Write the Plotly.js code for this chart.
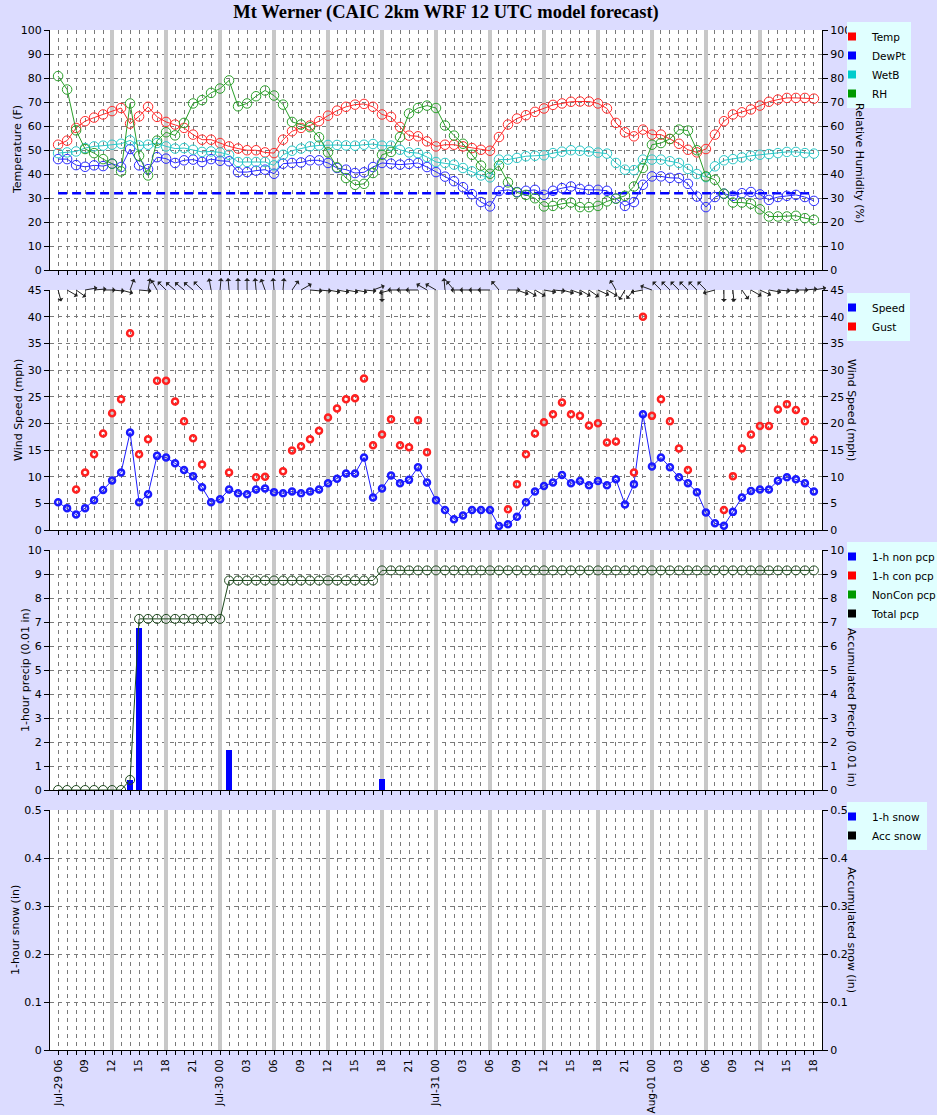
<!DOCTYPE html>
<html><head><meta charset="utf-8">
<script src="https://cdn.plot.ly/plotly-3.0.1.min.js"></script>
<style>html,body{margin:0;padding:0;background:#dcdcff}</style>
</head><body><div id="chart" style="width:937px;height:1115px"></div>
<script>
// ---------------- DATA ----------------
const tickText = ['Jul-29 06','09','12','15','18','21','Jul-30 00','03','06','09','12','15','18','21',
  'Jul-31 00','03','06','09','12','15','18','21','Aug-01 00','03','06','09','12','15','18'];
const temp = [52.2,53.9,59.2,62,63.5,64.8,66.2,67.5,61,64,
  68,63.8,61.7,60.6,59.2,56.4,54.3,54.3,52.9,51.5,
  50.6,49.9,49.9,49,48.7,54.3,57.8,59.2,60.2,62,
  64.3,66.4,68,68.9,69.2,68,64.8,63.8,59.6,56,
  55.7,53.6,51.5,52.2,52.2,51.5,50.8,50.1,49.7,55.4,
  60.6,63.1,64.5,65.9,67.3,68.8,69.4,70.1,70.2,70.2,
  69.4,67.3,61.3,57.4,55.7,58.5,56.4,56.4,54.6,52.6,
  50.1,49,50.4,56.4,62,64.8,65.7,66.9,68.5,70.1,
  71,71.7,71.7,71.7,71.4];
const dewpt = [46.2,46.2,43.7,43,43.6,43.3,44.3,42.9,50.4,43.6,
  42,47,46.4,44.6,45.7,46,45,46.2,45.5,45.3,
  40.8,40.8,41.4,41.8,40.1,44.3,44.6,44.8,45.7,45.7,
  44.6,42.5,41.8,40.4,40.7,42.9,44.6,44.3,43.9,44.2,
  44.6,42.9,40.8,38.9,37,34.5,31.6,28.3,26.5,32.9,
  33.4,32.5,33,33.4,31.3,33,34.1,34.8,33.8,33.4,
  33.4,33,29.8,26.7,28.3,35.5,39,39,38.4,38.3,
  35.9,30.6,26.2,30.4,31.8,30.9,32,32.5,31.5,29.2,
  30.4,30.9,31.3,30.4,28.8];
const wetb = [48.7,49,49.4,50.8,51.5,51.8,52.2,52.6,54,51.9,
  52.2,52.9,51.5,50.6,50.8,50.1,49.2,49.4,49,48,
  45,45,45,45,43.6,48,49.7,50.6,51.5,51.9,
  52.1,52.1,51.9,51.8,52.2,52.5,51.8,51.8,50.1,49,
  48.7,47.1,45,44.6,43.9,42.5,41.1,39.4,38.6,46,
  46,46.7,47.4,47.6,47.8,48.7,49.3,49.9,49.7,49.4,
  48.9,48.5,44.6,41.8,41.6,46,46,46,45.3,44.6,
  42.1,40,38.7,43.2,45.7,46.2,46.9,47.6,48,48.3,
  48.7,49.2,49.2,48.7,48.5];
const rh = [80.8,75.2,58.2,50.4,48.7,46.2,44.3,41.1,69.4,47.6,
  39.4,53.9,57.4,56.1,61.3,69.4,70.8,73.8,75.6,79,
  68.2,69.4,72.4,74.8,72.7,68.9,61.7,60.6,59.5,55.3,
  49,42.8,38.3,35.5,35.9,40.4,48,49.2,55.4,65.2,
  67.5,68.5,67.5,60.2,56,52.6,48,43.5,40.1,43.5,
  36.5,32.3,31.3,29.9,26.5,26.7,27.6,28.1,26.2,26.2,
  26.7,28.6,29.7,30.9,34.8,42.5,52.2,52.9,54.6,58.5,
  58.1,49.9,39,37.6,31.8,28.1,28.1,27.6,25.3,22.3,
  22.3,22.3,22.6,21.6,20.9];
const freezeLevel = 32;
const speed = [5.2,4.1,2.9,4.1,5.6,7.5,9.3,10.8,18.3,5.2,
  6.7,13.9,13.6,12.5,11.25,10.1,8,5.2,5.75,7.6,
  6.9,6.7,7.6,7.8,7.1,6.9,7.2,6.9,7.2,7.6,
  8.75,9.6,10.6,10.6,13.6,6.1,7.8,10.2,8.75,9.4,
  11.75,8.9,5.6,3.75,2,2.7,3.75,3.75,3.75,0.75,
  1.06,2.5,5.2,7.2,8.25,8.9,10.3,8.75,9.2,8.4,
  9.2,8.4,9.5,4.8,8.6,21.7,11.9,13.6,11.75,9.9,
  8.75,7.1,3.3,1.25,0.8,3.4,6.1,7.3,7.6,7.6,
  9.25,9.9,9.5,8.75,7.2];
const gust = [null,null,7.6,10.8,14.2,18.1,21.9,24.5,36.9,14.2,
  17,28,28,24.1,20.4,17.2,12.3,null,null,10.8,
  null,null,9.9,10,null,11,14.9,15.7,17,18.6,
  21.1,22.8,24.5,24.7,28.4,15.9,17.9,20.75,15.9,15.5,
  20.6,14.6,null,null,null,null,null,null,null,null,
  3.9,8.6,14.2,18.1,20.2,21.7,23.9,21.7,21.4,19.6,
  20,16.4,16.6,null,10.8,40,21.4,24.5,20.4,15.3,
  11.25,null,null,null,3.75,10.1,15.3,17.9,19.5,19.5,
  22.6,23.6,22.5,20.4,16.9];
// wind arrow direction (degrees clockwise from north, direction arrow points to)
const windDir = [165,120,125,80,85,90,95,105,20,95,
  10,330,315,310,310,310,315,350,5,355,
  0,0,355,340,355,5,35,60,95,95,
  100,100,100,100,95,70,180,255,270,270,
  270,300,300,355,320,270,270,270,270,320,
  90,110,120,120,100,95,105,110,120,125,
  115,120,330,210,220,260,290,315,315,315,
  315,315,315,255,180,175,145,120,115,100,
  95,95,90,85,80];
const precip1h = [0,0,0,0,0,0,0,0,0.42,6.75,
  0,0,0,0,0,0,0,0,0,1.65,
  0,0,0,0,0,0,0,0,0,0,
  0,0,0,0,0,0,0.45,0,0,0,
  0,0,0,0,0,0,0,0,0,0,
  0,0,0,0,0,0,0,0,0,0,
  0,0,0,0,0,0,0,0,0,0,
  0,0,0,0,0,0,0,0,0,0,
  0,0,0,0,0];
const precipAcc = [0,0,0,0,0,0,0,0,0.42,7.13,
  7.13,7.13,7.13,7.13,7.13,7.13,7.13,7.13,7.13,8.73,
  8.73,8.73,8.73,8.73,8.73,8.73,8.73,8.73,8.73,8.73,
  8.73,8.73,8.73,8.73,8.73,8.73,9.15,9.15,9.15,9.15,
  9.15,9.15,9.15,9.15,9.15,9.15,9.15,9.15,9.15,9.15,
  9.15,9.15,9.15,9.15,9.15,9.15,9.15,9.15,9.15,9.15,
  9.15,9.15,9.15,9.15,9.15,9.15,9.15,9.15,9.15,9.15,
  9.15,9.15,9.15,9.15,9.15,9.15,9.15,9.15,9.15,9.15,
  9.15,9.15,9.15,9.15,9.15];

// ---------------- BUILD ----------------
const hours = temp.map((_, i) => i);
const tickHours = tickText.map((_, i) => i * 3);
const sixHourLines = tickHours.filter(h => h % 6 === 0 && h > 0 && h < hours[hours.length - 1]);
const FONT = '"DejaVu Sans", sans-serif';
const FS = 11;
const GRID = '#7a7a7a';
const DASH = '4px,4px';
const xRange = [-0.9, 84.9];

const C = {temp:'#ff2a2a', dew:'#2a2aff', wet:'#2ac8c8', rh:'#2aa02a', spd:'#1a1aff', gust:'#ff2020', pcp:'#0000ff', acc:'#1e4a1e'};

function xax(anchor, labels) {
  return {
    domain:[0,1], anchor:anchor, range:xRange, tickmode:'array', tickvals:tickHours,
    ticktext:tickText, showticklabels:labels, tickangle:-90,
    ticks:'outside', ticklen:4, tickcolor:'#000', tickfont:{family:FONT, size:10.5, color:'#000'},
    showline:true, linecolor:'#000', linewidth:1, zeroline:false,
    showgrid:true, gridcolor:GRID, griddash:DASH, gridwidth:1,
    minor:{tickmode:'linear', tick0:0, dtick:1, ticks:'outside', ticklen:4, tickcolor:'#000',
           showgrid:true, gridcolor:GRID, griddash:DASH, gridwidth:1},
    fixedrange:true
  };
}
// overlay axis that carries the 6-hourly grey lines as its grid
function xaxGrey(over, anchor) {
  return {
    overlaying:over, anchor:anchor, range:xRange, tickmode:'array', tickvals:sixHourLines,
    showticklabels:false, ticks:'', showline:false, zeroline:false,
    showgrid:true, gridcolor:'#c8c8c8', gridwidth:3.5, fixedrange:true
  };
}
function yax(domain, range, dtick, anchor) {
  return {
    domain:domain, range:range, dtick:dtick, tick0:0, anchor:anchor,
    ticks:'outside', ticklen:5, tickcolor:'#000', tickfont:{family:FONT, size:FS, color:'#000'},
    showline:true, linecolor:'#000', linewidth:1, zeroline:false,
    showgrid:true, gridcolor:GRID, griddash:DASH, gridwidth:1, fixedrange:true
  };
}
function yaxR(over, range, dtick, anchor) {
  return {
    overlaying:over, side:'right', range:range, dtick:dtick, tick0:0, anchor:anchor,
    ticks:'outside', ticklen:5, tickcolor:'#000', tickfont:{family:FONT, size:FS, color:'#000'},
    showline:true, linecolor:'#000', linewidth:1, zeroline:false, showgrid:false, fixedrange:true
  };
}

const H = 1020;
const d1 = [780/H, 1], d2 = [520/H, 760/H], d3 = [260/H, 500/H], d4 = [0, 240/H];

const traces = [];
// invisible carriers so the grey-grid overlay axes get drawn
[['x5','y'], ['x6','y3'], ['x7','y5'], ['x8','y7']].forEach(([xa, ya]) => {
  traces.push({x:[null], y:[null], xaxis:xa, yaxis:ya, mode:'markers', showlegend:false, hoverinfo:'skip'});
});
// Panel 1
traces.push({x:[hours[0], hours[hours.length-1]], y:[freezeLevel, freezeLevel], xaxis:'x', yaxis:'y', mode:'lines',
  line:{color:'#0000ff', width:2.5, dash:'9px,5px'}, showlegend:false});
[[temp, C.temp, 'y'], [dewpt, C.dew, 'y'], [wetb, C.wet, 'y'], [rh, C.rh, 'y2']].forEach(([arr, col, ya]) => {
  traces.push({x:hours, y:arr, xaxis:'x', yaxis:ya, mode:'lines+markers',
    line:{color:col, width:1}, marker:{symbol:'circle-open', size:9.5, color:col, line:{width:1, color:col}}, showlegend:false});
});
// Panel 2
traces.push({x:hours, y:speed, xaxis:'x2', yaxis:'y3', mode:'lines+markers',
  line:{color:C.spd, width:1}, marker:{symbol:'circle-open', size:6, color:C.spd, line:{width:2.5, color:C.spd}}, showlegend:false});
traces.push({x:hours, y:gust, xaxis:'x2', yaxis:'y3', mode:'markers',
  marker:{symbol:'circle-open', size:6, color:C.gust, line:{width:2.5, color:C.gust}}, showlegend:false});
// Panel 3
traces.push({type:'bar', x:hours, y:precip1h, xaxis:'x3', yaxis:'y5', width:0.65,
  marker:{color:C.pcp, line:{width:0}}, showlegend:false});
traces.push({x:hours, y:precipAcc, xaxis:'x3', yaxis:'y6', mode:'lines+markers',
  line:{color:C.acc, width:1}, marker:{symbol:'circle-open', size:9, color:C.acc, line:{width:1, color:C.acc}}, showlegend:false});

// legend-only entries (square swatches)
function legendEntry(name, color, legend, xa, ya) {
  traces.push({x:[null], y:[null], name:name, mode:'markers', xaxis:xa, yaxis:ya, legend:legend,
    marker:{symbol:'square', size:8, color:color}, showlegend:true});
}
legendEntry('Temp', '#ff0000', 'legend', 'x', 'y');
legendEntry('DewPt', '#0000ff', 'legend', 'x', 'y');
legendEntry('WetB', '#00cccc', 'legend', 'x', 'y');
legendEntry('RH', '#009900', 'legend', 'x', 'y2');
legendEntry('Speed', '#0000ff', 'legend2', 'x2', 'y3');
legendEntry('Gust', '#ff0000', 'legend2', 'x2', 'y4');
legendEntry('1-h non pcp', '#0000ff', 'legend3', 'x3', 'y5');
legendEntry('1-h con pcp', '#ff0000', 'legend3', 'x3', 'y5');
legendEntry('NonCon pcp', '#009900', 'legend3', 'x3', 'y5');
legendEntry('Total pcp', '#000000', 'legend3', 'x3', 'y6');
legendEntry('1-h snow', '#0000ff', 'legend4', 'x4', 'y7');
legendEntry('Acc snow', '#000000', 'legend4', 'x4', 'y8');

// annotations: axis titles + wind arrows
const annotations = [];
function atitle(text, x, y, angle) {
  annotations.push({text:text, xref:'paper', yref:'paper', x:(x - 50)/772, y:(1050 - y)/H, xanchor:'center', yanchor:'middle',
    textangle:angle, showarrow:false, font:{family:FONT, size:FS, color:'#000'}});
}
atitle('Temperature (F)', 17, 150, -90);
atitle('Wind Speed (mph)', 18, 410, -90);
atitle('1-hour precip (0.01 in)', 25, 670, -90);
atitle('1-hour snow (in)', 15, 930, -90);
atitle('Relative Humidity (%)', 859, 163, 90);
atitle('Wind Speed (mph)', 852, 410, 90);
atitle('Accumulated Precip (0.01 in)', 852, 708, 90);
atitle('Accumulated snow (in)', 852, 930, 90);

const arrowLen = 14;
windDir.forEach((d, i) => {
  const r = d * Math.PI / 180;
  annotations.push({x:hours[i], y:45, xref:'x2', yref:'y3', ax:arrowLen*Math.sin(r), ay:-arrowLen*Math.cos(r),
    showarrow:true, arrowside:'start', arrowhead:5, arrowsize:1, arrowwidth:1, arrowcolor:'#222',
    font:{size:1}});
});

const legBase = {xanchor:'left', yanchor:'top', x:(847-50)/772, bgcolor:'#e0ffff', borderwidth:0,
  font:{family:FONT, size:10.5, color:'#000'}, itemwidth:30, indentation:-15, tracegroupgap:0};

const layout = {
  width:937, height:1115,
  paper_bgcolor:'#dcdcff', plot_bgcolor:'#ffffff',
  margin:{l:50, r:115, t:30, b:65, autoexpand:false},
  title:{text:'Mt Werner (CAIC 2km WRF 12 UTC model forecast)', font:{family:'"Liberation Serif", serif', size:18.5, color:'#000', weight:'bold'},
         xref:'container', x:0.476, xanchor:'center', yref:'container', y:1-12/1115, yanchor:'middle'},
  xaxis: xax('y', false),
  xaxis2: Object.assign(xax('y3', false), {matches:'x'}),
  xaxis3: Object.assign(xax('y5', false), {matches:'x'}),
  xaxis4: Object.assign(xax('y7', true), {matches:'x'}),
  xaxis5: xaxGrey('x', 'y'),
  xaxis6: xaxGrey('x2', 'y3'),
  xaxis7: xaxGrey('x3', 'y5'),
  xaxis8: xaxGrey('x4', 'y7'),
  yaxis: yax(d1, [0,100], 10, 'x'),
  yaxis2: yaxR('y', [0,100], 10, 'x'),
  yaxis3: yax(d2, [0,45], 5, 'x2'),
  yaxis4: yaxR('y3', [0,45], 5, 'x2'),
  yaxis5: yax(d3, [0,10], 1, 'x3'),
  yaxis6: yaxR('y5', [0,10], 1, 'x3'),
  yaxis7: yax(d4, [0,0.5], 0.1, 'x4'),
  yaxis8: yaxR('y7', [0,0.5], 0.1, 'x4'),
  legend: Object.assign({}, legBase, {y:(1050-22)/H}),
  legend2: Object.assign({}, legBase, {y:(1050-293)/H}),
  legend3: Object.assign({}, legBase, {y:(1050-542)/H}),
  legend4: Object.assign({}, legBase, {y:(1050-802)/H}),
  annotations:annotations,
  showlegend:true, hovermode:false, bargap:0
};

Plotly.newPlot('chart', traces, layout, {staticPlot:true, displayModeBar:false});
</script>
</body></html>
